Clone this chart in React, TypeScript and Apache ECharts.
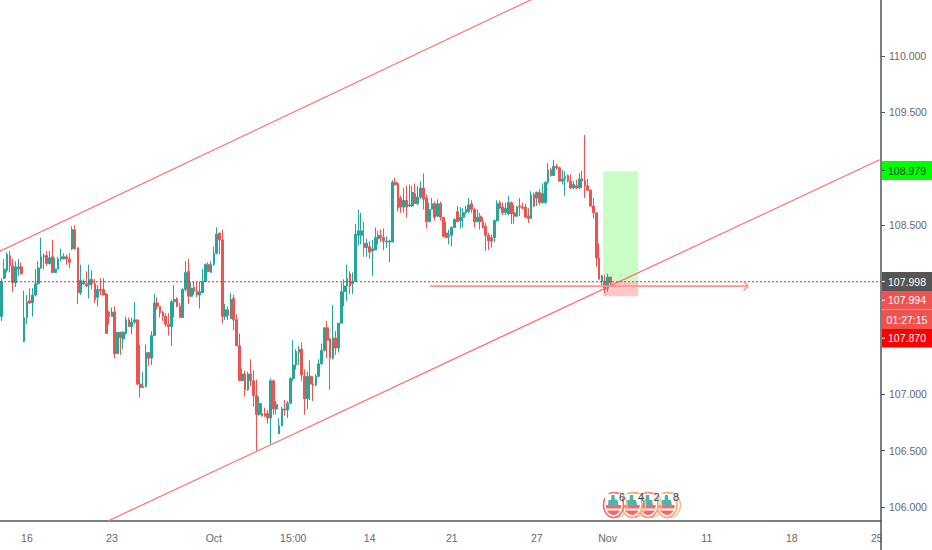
import React, { useEffect, useRef } from "react";
import * as echarts from "echarts";

// bar index → label on the time axis
const tickIndexes = [9, 39, 75, 103, 130, 159, 189, 214, 249, 279, 309];
const tickLabels = ["16", "23", "Oct", "15:00", "14", "21", "27", "Nov", "11", "18", "25"];
const barSlots = 311;

const priceTicks = [106, 106.5, 107, 107.5, 108, 108.5, 109, 109.5, 110];
const priceLabels = [106, 106.5, 107, 108.5, 109.5, 110];

// open, close, low, high
const candlesA = [
[107.69,108.00,107.65,108.03],[108.03,108.11,108.02,108.20],[108.10,108.24,108.08,108.26],[108.23,108.14,108.08,108.27],
[108.14,107.99,107.91,108.20],[107.99,108.13,107.95,108.18],[108.11,108.13,108.05,108.20],[108.13,108.07,108.06,108.17],
[107.47,107.68,107.46,107.92],[107.68,107.82,107.62,107.88],[107.83,107.81,107.80,107.94],[107.81,107.88,107.69,107.94],
[107.88,107.98,107.87,108.11],[107.98,108.12,107.97,108.18],[108.12,108.22,108.11,108.39],[108.22,108.23,108.11,108.25],
[108.23,108.16,108.14,108.27],[108.16,108.21,108.15,108.27],[108.22,108.08,108.08,108.37],[108.08,108.11,108.08,108.21],
[108.11,108.20,108.11,108.22],[108.20,108.22,108.18,108.29],[108.20,108.22,108.20,108.25],[108.22,108.20,108.15,108.24],
[108.20,108.17,108.12,108.25],[108.29,108.46,108.28,108.49],[108.46,108.29,108.28,108.50],[108.30,107.90,107.80,108.30],
[107.90,108.01,107.88,108.15],[107.98,108.00,107.97,108.02],[107.98,107.96,107.95,108.09],[107.97,108.02,107.85,108.15],
[108.02,107.98,107.93,108.10],[107.98,107.84,107.81,108.02],[107.86,107.93,107.78,107.97],[107.93,107.92,107.88,108.03],
[107.93,107.88,107.88,108.03],[107.89,107.54,107.54,107.90],[107.73,107.69,107.62,107.74],[107.69,107.73,107.69,107.77],
[107.73,107.36,107.32,107.78],[107.36,107.55,107.36,107.55],[107.55,107.50,107.35,107.55],[107.49,107.55,107.40,107.56],
[107.54,107.66,107.53,107.69],[107.66,107.60,107.60,107.68],[107.60,107.64,107.53,107.68],[107.64,107.66,107.62,107.82],
[107.66,107.09,107.08,107.66],[107.09,107.06,106.97,107.44],[107.06,107.07,107.06,107.20],[107.07,107.37,107.06,107.44],
[107.37,107.32,107.25,107.37],[107.32,107.52,107.26,107.56],[107.52,107.81,107.52,107.89],[107.81,107.78,107.75,107.86],
[107.78,107.72,107.68,107.78],[107.73,107.69,107.65,107.74],[107.69,107.62,107.60,107.72],[107.62,107.60,107.52,107.72],
[107.60,107.82,107.43,107.84],[107.82,107.84,107.68,107.97],[107.85,107.78,107.77,107.86],[107.78,107.68,107.68,107.81],
[107.68,107.93,107.68,107.94],[107.93,108.08,107.91,108.18],[108.09,107.87,107.80,108.20],[107.87,107.94,107.86,108.00],
[107.95,107.91,107.88,108.00],[107.91,107.88,107.86,108.00],[107.88,107.91,107.76,108.00],[107.90,108.00,107.90,108.11],
[108.00,108.15,108.00,108.16],[108.15,108.09,108.08,108.17],[108.08,108.15,108.08,108.18],[108.15,108.25,108.14,108.31],
[108.25,108.42,108.24,108.48],[108.43,108.37,108.24,108.43],
];
const candlesB = [
[108.37,107.69,107.63,108.46],[107.69,107.75,107.66,107.80],[107.75,107.70,107.66,107.78],[107.67,107.84,107.67,107.90],
[107.85,107.66,107.57,107.88],[107.66,107.43,107.43,107.71],[107.43,107.12,107.12,107.54],[107.12,107.18,107.12,107.23],
[107.18,107.04,106.98,107.21],[107.04,107.18,107.03,107.20],[107.18,107.12,107.07,107.31],[107.12,106.99,106.89,107.21],
[106.99,106.82,106.50,107.13],[106.82,106.92,106.81,106.98],[106.83,106.81,106.80,106.92],[106.83,106.81,106.80,106.88],
[106.83,106.79,106.74,106.86],[106.79,107.12,106.56,107.14],[107.12,106.87,106.82,107.13],[106.87,106.91,106.82,106.94],
[106.65,106.72,106.65,106.79],[106.72,106.87,106.72,106.89],[106.87,106.86,106.81,106.95],[106.86,106.92,106.79,106.94],
[106.92,107.14,106.92,107.15],[107.14,107.26,107.12,107.48],[107.26,107.38,107.22,107.40],[107.37,107.40,107.26,107.43],
[107.40,107.17,107.12,107.46],[107.16,106.96,106.82,107.22],[106.96,107.16,106.87,107.20],[107.16,107.09,106.95,107.30],
[107.09,107.08,106.94,107.16],[107.08,107.16,107.07,107.18],[107.16,107.27,107.15,107.31],[107.27,107.39,107.26,107.45],
[107.39,107.59,107.38,107.59],[107.59,107.48,107.32,107.65],[107.49,107.32,107.04,107.50],[107.32,107.50,107.31,107.79],
[107.50,107.41,107.35,107.56],[107.41,107.63,107.37,107.63],[107.63,107.91,107.63,107.99],[107.91,107.96,107.78,108.02],
[107.96,108.03,107.83,108.15],[108.07,107.96,107.89,108.09],[107.98,108.00,107.89,108.08],[108.00,108.42,108.00,108.51],
[108.41,108.45,108.32,108.64],[108.41,108.45,108.33,108.61],[108.34,108.30,108.22,108.53],[108.30,108.34,108.22,108.38],
[108.31,108.26,108.20,108.36],[108.27,108.29,108.05,108.37],[108.28,108.39,108.28,108.48],[108.38,108.41,108.33,108.45],
[108.41,108.39,108.35,108.46],[108.39,108.36,108.28,108.47],[108.35,108.36,108.30,108.40],[108.35,108.36,108.17,108.37],
];
const candlesC = [
[108.35,108.88,108.35,108.90],[108.88,108.86,108.85,108.92],[108.87,108.65,108.62,108.88],[108.74,108.66,108.61,108.76],
[108.66,108.72,108.61,108.83],[108.72,108.66,108.57,108.85],[108.67,108.68,108.66,108.86],[108.67,108.79,108.66,108.85],
[108.78,108.69,108.69,108.87],[108.69,108.75,108.68,108.85],[108.75,108.83,108.73,108.89],[108.83,108.73,108.64,108.96],
[108.74,108.53,108.47,108.77],[108.53,108.64,108.53,108.70],[108.64,108.69,108.64,108.74],[108.69,108.57,108.54,108.71],
[108.58,108.69,108.57,108.73],[108.69,108.57,108.54,108.71],[108.57,108.40,108.39,108.57],[108.43,108.39,108.39,108.53],
[108.40,108.41,108.33,108.46],
[108.41,108.48,108.31,108.49],[108.48,108.55,108.48,108.56],[108.62,108.53,108.53,108.67],[108.54,108.57,108.47,108.66],
[108.57,108.61,108.48,108.65],[108.61,108.64,108.60,108.67],[108.62,108.68,108.61,108.74],[108.69,108.64,108.61,108.72],
[108.64,108.53,108.48,108.65],[108.53,108.57,108.53,108.64],[108.58,108.53,108.46,108.61],[108.53,108.48,108.47,108.57],
[108.49,108.41,108.27,108.52],[108.41,108.36,108.28,108.43],[108.39,108.36,108.30,108.42],[108.39,108.54,108.35,108.55],
[108.54,108.69,108.53,108.72],[108.70,108.65,108.64,108.72],[108.66,108.61,108.59,108.70],[108.61,108.65,108.59,108.70],
[108.60,108.70,108.59,108.76],[108.70,108.60,108.51,108.71],[108.61,108.58,108.51,108.68],[108.58,108.66,108.57,108.67],
[108.67,108.66,108.58,108.74],[108.66,108.65,108.64,108.70],[108.66,108.57,108.56,108.69],[108.58,108.56,108.52,108.65],
[108.56,108.77,108.56,108.80],[108.77,108.67,108.66,108.79],[108.74,108.79,108.67,108.80],[108.79,108.70,108.68,108.82],
[108.70,108.78,108.69,108.87],[108.70,108.88,108.69,108.89],[108.88,108.99,108.86,109.05],[108.99,108.94,108.93,109.01],
[108.94,109.02,108.94,109.08],[109.02,109.01,108.99,109.04],[109.01,108.89,108.89,109.02],[108.89,108.91,108.86,108.99],
[108.91,108.93,108.76,108.98],[108.94,108.89,108.88,108.95],[108.89,108.83,108.82,108.95],[108.83,108.86,108.82,108.89],
[108.85,108.83,108.82,108.90],[108.83,108.91,108.82,108.96],[108.91,108.89,108.83,108.98],[108.90,108.85,108.74,109.30],
[108.85,108.81,108.80,108.91],[108.81,108.67,108.66,108.82],[108.67,108.61,108.56,108.74],[108.61,108.21,108.13,108.61],
[108.21,108.02,108.02,108.34],[108.00,108.05,107.95,108.06],[108.00,107.93,107.90,108.06],
[107.94,108.04,107.91,108.07],[108.04,107.99,107.96,108.04],
];
const candles = [...candlesA, ...candlesB, ...candlesC];

// drawings, in [bar index, price]
const upperChannel = [[-0.5, 108.27], [187, 110.5]];
const lowerChannel = [[37.6, 105.876], [310, 109.08]];
const lastPrice = 107.998;
const positionBox = { from: 212.4, to: 224.8, target: 108.979, entry: 107.998, stop: 107.87 };
const arrowLine = [[151.3, 107.96], [263.6, 107.96]];
const arrowHeadUp = [[262, 108.0], [263.6, 107.96]];
const arrowHeadDown = [[262, 107.92], [263.6, 107.96]];

const priceTags = [
  { text: "108.979", top: 161, h: 19, fill: "#00ff00", color: "#2a3a2a", tick: "#1f5f1f" },
  { text: "107.998", top: 272, h: 19, fill: "#555555", color: "#ffffff", tick: "#ffffff" },
  { text: "107.994", top: 291, h: 18.5, fill: "#ef5350", color: "#ffffff", tick: "#ffffff" },
  { text: "01:27:15", top: 310, h: 19, fill: "#ef5350", color: "#ffffff", tick: "" },
  { text: "107.870", top: 329, h: 18.5, fill: "#ff0000", color: "#ffffff", tick: "#ffffff" },
];
const eventIcons = [
  { cx: 613.5, ring: "#ef6c6c", count: "6", tx: 622 },
  { cx: 632, ring: "#ffa366", count: "4", tx: 641 },
  { cx: 648, ring: "#ff8a65", count: "2", tx: 656.5 },
  { cx: 667, ring: "#ffa366", count: "8", tx: 676 },
];

const FONT = "'Liberation Sans', Arial, sans-serif";
const FONT_SIZE = 10.5;
const AXIS = "#50535e";
const LABEL = "#66686f";
const UP = "#26a69a";
const DOWN = "#ef5350";

function iconGraphics() {
  const out: any[] = [];
  const cy = 505;
  for (const ic of [...eventIcons].reverse()) {
    out.push(
      { type: "ellipse", z: 50, shape: { cx: ic.cx + 3, cy, rx: 10.5, ry: 12.5 }, style: { fill: "none", stroke: "#ffb98a", lineWidth: 1.4 } },
      { type: "ellipse", z: 50, shape: { cx: ic.cx, cy, rx: 10, ry: 12.5 }, style: { fill: "#ffffff", stroke: ic.ring, lineWidth: 1.6 } },
      { type: "ellipse", z: 50, shape: { cx: ic.cx, cy, rx: 7.8, ry: 10 }, style: { fill: "#f4686c" } },
      { type: "rect", z: 50, shape: { x: ic.cx - 8.5, y: cy - 11, width: 17, height: 11 }, style: { fill: "#ffffff" } },
      { type: "rect", z: 50, shape: { x: ic.cx - 8.5, y: cy + 3.5, width: 17, height: 2 }, style: { fill: "#ffffff" } },
      { type: "polygon", z: 50, shape: { points: [[ic.cx - 5.5, cy + 0.5], [ic.cx + 5, cy + 0.5], [ic.cx + 4, cy - 5], [ic.cx + 1.5, cy - 5], [ic.cx + 1, cy - 10], [ic.cx - 2, cy - 10], [ic.cx - 2.5, cy - 5], [ic.cx - 5, cy - 5]] }, style: { fill: "#4db6ac" } },
      { type: "text", z: 51, x: ic.tx, y: 497, style: { text: ic.count, fill: "#444444", font: "11px " + FONT, textAlign: "center", textVerticalAlign: "middle" } }
    );
  }
  return out;
}

function tagGraphics() {
  const out: any[] = [
    { type: "rect", z: 40, shape: { x: 882, y: 521.5, width: 50, height: 29 }, style: { fill: "#ffffff" } },
    { type: "line", z: 41, shape: { x1: 881, y1: 521, x2: 881, y2: 550 }, style: { stroke: AXIS, lineWidth: 1.5 } },
  ];
  for (const t of priceTags) {
    const mid = t.top + t.h / 2;
    out.push(
      { type: "rect", z: 42, shape: { x: 882, y: t.top, width: 50, height: t.h }, style: { fill: t.fill } },
      { type: "text", z: 43, x: 907, y: mid, style: { text: t.text, fill: t.color, font: FONT_SIZE + "px " + FONT, textAlign: "center", textVerticalAlign: "middle" } }
    );
    if (t.tick) out.push({ type: "rect", z: 43, shape: { x: 882, y: mid - 0.5, width: 3, height: 1 }, style: { fill: t.tick } });
  }
  return out;
}

export default function App() {
  const ref = useRef<HTMLDivElement>(null);
  useEffect(() => {
    const chart = echarts.init(ref.current!, undefined, { renderer: "svg" });
    const categories = Array.from({ length: barSlots }, (_, i) => {
      const k = tickIndexes.indexOf(i);
      return k >= 0 ? tickLabels[k] : String(i);
    });
    const isTick = (i: number) => tickIndexes.includes(i);
    const overlay = (data: number[][], color: string, width: number, z: number, type: any = "solid") => ({
      type: "line", xAxisIndex: 1, yAxisIndex: 0, data, showSymbol: false, symbol: "none", silent: true, z,
      lineStyle: { color, width, type },
    });
    chart.setOption({
      animation: false,
      backgroundColor: "#ffffff",
      grid: { left: 0, right: 51, top: 0, bottom: 29, containLabel: false, outerBoundsMode: "none" },
      xAxis: [
        {
          type: "category", data: categories, boundaryGap: true,
          axisLine: { lineStyle: { color: AXIS, width: 1.5 } },
          axisTick: { alignWithLabel: true, interval: (i: number) => isTick(i), length: 4, lineStyle: { color: AXIS } },
          axisLabel: { interval: (i: number) => isTick(i), color: LABEL, fontFamily: FONT, fontSize: FONT_SIZE, margin: 11 },
          splitLine: { show: false },
        },
        { type: "value", show: false, min: -0.5, max: barSlots - 0.5, splitLine: { show: false } },
      ],
      yAxis: {
        type: "value", position: "right", min: 105.876, max: 110.497, scale: true,
        axisLine: { show: true, onZero: false, lineStyle: { color: AXIS, width: 1.5 } },
        axisTick: { show: true, length: 4, customValues: priceTicks, lineStyle: { color: AXIS } },
        axisLabel: { customValues: priceLabels, color: LABEL, fontFamily: FONT, fontSize: FONT_SIZE, margin: 8, formatter: (v: number) => v.toFixed(3) },
        splitLine: { show: false },
      },
      series: [
        {
          type: "line", xAxisIndex: 1, yAxisIndex: 0, data: [], z: 1, silent: true,
          markArea: {
            silent: true,
            data: [
              [{ coord: [positionBox.from, positionBox.target], itemStyle: { color: "rgba(0,255,0,0.22)" } }, { coord: [positionBox.to, positionBox.entry] }],
              [{ coord: [positionBox.from, positionBox.entry], itemStyle: { color: "rgba(255,0,0,0.22)" } }, { coord: [positionBox.to, positionBox.stop] }],
            ],
          },
        },
        {
          type: "candlestick", data: candles, barWidth: 2.2, z: 3, silent: true,
          itemStyle: { color: UP, color0: DOWN, borderColor: UP, borderColor0: DOWN, borderWidth: 1 },
        },
        overlay(upperChannel, "#ff6f6f", 1.2, 4),
        overlay(lowerChannel, "#ff6f6f", 1.2, 4),
        overlay([[-0.5, lastPrice], [barSlots - 0.5, lastPrice]], "#e02a2a", 1, 4, [2, 2]),
        overlay(arrowLine, "#ff9490", 1.8, 4),
        overlay(arrowHeadUp, "#ff8a85", 1.2, 4),
        overlay(arrowHeadDown, "#ff8a85", 1.2, 4),
      ],
      graphic: [...iconGraphics(), ...tagGraphics()],
    });
    return () => chart.dispose();
  }, []);
  return <div ref={ref} style={{ position: "absolute", left: 0, top: 0, width: 932, height: 550 }} />;
}
